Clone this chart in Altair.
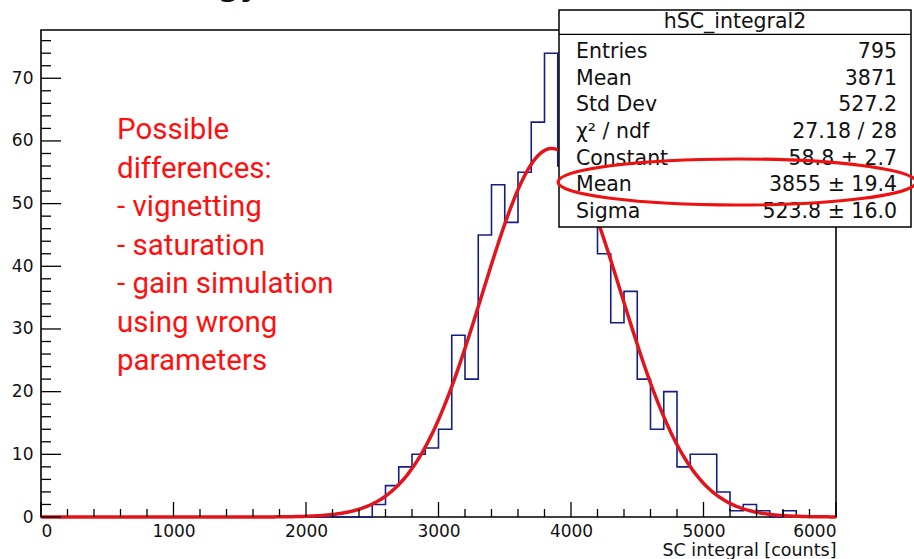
import altair as alt
import pandas as pd

# ---------------- data ----------------
BIN_WIDTH = 100
BIN_LOW = list(range(0, 6000, BIN_WIDTH))
COUNTS = [0, 0, 0, 0, 0, 0, 0, 0, 0, 0,
          0, 0, 0, 0, 0, 0, 0, 0, 0, 0,
          0, 0, 0, 0, 0, 2, 5, 8, 10, 11,
          14, 29, 22, 45, 53, 47, 55, 63, 74, 56,
          52, 47, 42, 31, 36, 22, 14, 20, 8, 10,
          10, 4, 1, 2, 1, 0, 1, 0, 0, 0]
FIT_CONSTANT, FIT_MEAN, FIT_SIGMA = 58.8, 3855, 523.8

X_MAJOR = [0, 1000, 2000, 3000, 4000, 5000, 6000]
X_MINOR = [200, 400, 600, 800, 1200, 1400, 1600, 1800, 2200, 2400, 2600, 2800,
           3200, 3400, 3600, 3800, 4200, 4400, 4600, 4800, 5200, 5400, 5600, 5800]
Y_MAJOR = [0, 10, 20, 30, 40, 50, 60, 70]
Y_MINOR = [2, 4, 6, 8, 12, 14, 16, 18, 22, 24, 26, 28, 32, 34, 36, 38,
           42, 44, 46, 48, 52, 54, 56, 58, 62, 64, 66, 68, 72, 74, 76]

STAT_TITLE = "hSC_integral2"
STAT_LABELS = ["Entries", "Mean", "Std Dev", "\u03c7\u00b2 / ndf", "Constant", "Mean", "Sigma"]
STAT_VALUES = ["795", "3871", "527.2", "27.18 / 28", "58.8 \u00b1 2.7",
               "3855 \u00b1 19.4", "523.8 \u00b1 16.0"]
NOTE_LINES = ["Possible", "differences:", "- vignetting", "- saturation",
              "- gain simulation", "using wrong", "parameters"]

# ---------------- tables ----------------
hist_df = pd.DataFrame({"edge": BIN_LOW + [6000], "count": COUNTS + [COUNTS[-1]]})
one = pd.DataFrame({"k": [0]})

W, H = 795, 487
xs = alt.Scale(domain=[0, 6000], nice=False, zero=False)
ys = alt.Scale(domain=[0, max(COUNTS) * 1.05], nice=False)

FONT = "DejaVu Sans"

AX = alt.Axis(
    values=X_MAJOR, format="d", ticks=False, domain=False, grid=False,
    labelFont=FONT, labelFontSize=17, labelColor="#111", labelPadding=6,
    title="SC integral [counts]", titleFont=FONT, titleFontSize=17.5,
    titleFontWeight="normal", titleColor="#111", titleAnchor="end",
    titlePadding=2)
AY = alt.Axis(
    values=Y_MAJOR, format="d", ticks=False, domain=False, grid=False,
    labelFont=FONT, labelFontSize=17, labelColor="#111", labelPadding=8,
    title=None)

hist = alt.Chart(hist_df).mark_line(
    interpolate="step-after", color="#141e86", strokeWidth=1.6
).encode(
    x=alt.X("edge:Q", scale=xs, axis=AX),
    y=alt.Y("count:Q", scale=ys, axis=AY),
)

fit = alt.Chart(alt.sequence(0, 6000.1, 20, as_="x")).transform_calculate(
    y=f"{FIT_CONSTANT}*exp(-0.5*pow((datum.x-{FIT_MEAN})/{FIT_SIGMA},2))"
).mark_line(color="#e0161c", strokeWidth=3.5).encode(
    x=alt.X("x:Q", scale=xs, axis=AX),
    y=alt.Y("y:Q", scale=ys, axis=AY),
)

def xticks(vals, length):
    return alt.Chart(pd.DataFrame({"v": vals})).mark_rule(
        color="black", strokeWidth=1.3).encode(
        x=alt.X("v:Q", scale=xs, axis=AX),
        y=alt.value(H), y2=alt.value(H - length))

def yticks(vals, length):
    return alt.Chart(pd.DataFrame({"v": vals})).mark_rule(
        color="black", strokeWidth=1.3).encode(
        y=alt.Y("v:Q", scale=ys, axis=AY),
        x=alt.value(0), x2=alt.value(length))

# stats box (pixel positions relative to plot origin)
BX0, BX1, BY0, BY1 = 518, 870, -20, 197
box = alt.Chart(one).mark_rect(fill="white", stroke="black", strokeWidth=1.5).encode(
    x=alt.value(BX0), x2=alt.value(BX1), y=alt.value(BY0), y2=alt.value(BY1))
sep = alt.Chart(one).mark_rule(color="black", strokeWidth=1.3).encode(
    x=alt.value(BX0), x2=alt.value(BX1), y=alt.value(4.3))
stat_title = alt.Chart(one).mark_text(
    text=STAT_TITLE, font=FONT, fontSize=20.5, align="center", baseline="alphabetic",
    color="#111").encode(x=alt.value((BX0 + BX1) / 2), y=alt.value(-1.7))
stat_labels = alt.Chart(one).mark_text(
    text="\n".join(STAT_LABELS), lineBreak="\n", lineHeight=26.6, font=FONT,
    fontSize=20.5, align="left", baseline="alphabetic", color="#111").encode(
    x=alt.value(535), y=alt.value(28.3))
stat_values = alt.Chart(one).mark_text(
    text="\n".join(STAT_VALUES), lineBreak="\n", lineHeight=26.6, font=FONT,
    fontSize=20.5, align="right", baseline="alphabetic", color="#111").encode(
    x=alt.value(856), y=alt.value(28.3))

ellipse = alt.Chart(one).mark_point(
    shape="M-1,0A1,0.1285,0,1,1,1,0A1,0.1285,0,1,1,-1,0Z",
    size=358 ** 2, filled=False, color="#ee1111", strokeWidth=3.2, opacity=1).encode(
    x=alt.value(696), y=alt.value(152))

note = alt.Chart(one).mark_text(
    text="\n".join(NOTE_LINES), lineBreak="\n", lineHeight=38.5, font="Roboto",
    fontSize=29.5, align="left", baseline="alphabetic", color="#ff1010").encode(
    x=alt.value(76), y=alt.value(109.3))

top_frag = alt.Chart(one).mark_text(
    text="gy", font=FONT, fontSize=30, fontWeight="bold", align="left",
    baseline="alphabetic", color="#111").encode(x=alt.value(177), y=alt.value(-34))

chart = alt.layer(
    hist, fit,
    xticks(X_MAJOR, 15), xticks(X_MINOR, 8),
    yticks(Y_MAJOR, 20), yticks(Y_MINOR, 10),
    box, sep, stat_title, stat_labels, stat_values, ellipse, note, top_frag,
).properties(
    width=W, height=H,
    autosize=alt.AutoSizeParams(type="none"),
    padding={"left": 41, "top": 30, "right": 78, "bottom": 42},
    background="white",
).configure_view(stroke="black", strokeWidth=1.6)

chart.save("out.html", embed_options={"renderer": "svg", "actions": False})
